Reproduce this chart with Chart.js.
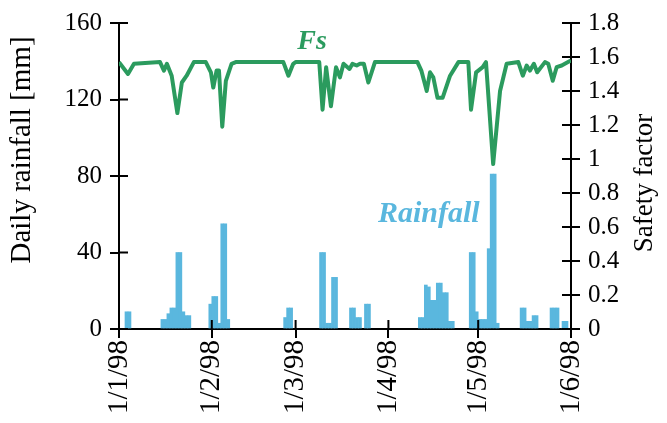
<!DOCTYPE html>
<html>
<head>
<meta charset="utf-8">
<script src="https://cdn.jsdelivr.net/npm/chart.js@4.4.1/dist/chart.umd.min.js"></script>
<style>
html, body { margin: 0; padding: 0; background: #fff; }
#wrap { width: 667px; height: 423px; }
</style>
</head>
<body>
<div id="wrap"><canvas id="chart"></canvas></div>
<script>
// day 0 = 1/1/98
const tickDays = [0, 31, 59, 90, 120, 151];
const tickLabels = ['1/1/98', '1/2/98', '1/3/98', '1/4/98', '1/5/98', '1/6/98'];

// daily rainfall [mm], only wet days
const rainDays = [2, 3, 14, 15, 16, 17, 18, 19, 20, 21, 22, 23,
    30, 31, 32, 33, 34, 35, 36, 55, 56, 57,
    67, 68, 69, 70, 71, 72, 77, 78, 79, 80, 82, 83,
    100, 101, 102, 103, 104, 105, 106, 107, 108, 109, 110, 111,
    117, 118, 119, 120, 121, 122, 123, 124, 125, 126,
    134, 135, 136, 137, 138, 139, 144, 145, 146, 148, 149];
const rainMm = [9, 9, 5, 5, 8, 11, 11, 40, 40, 9, 7, 7,
    13, 17, 17, 3, 55, 55, 5, 6, 11, 11,
    40, 40, 3, 3, 27, 27, 11, 11, 6, 6, 13, 13,
    6, 6, 23, 22, 15, 15, 24, 24, 19, 19, 4, 4,
    40, 40, 9, 5, 5, 5, 42, 81, 81, 3,
    11, 11, 4, 4, 7, 7, 11, 11, 11, 4, 4];

// safety factor, read at the corners of the curve
const fsDays = [0, 3, 5, 13.7, 15, 16, 17.6, 19.5, 21, 22.6, 25, 29, 30.7, 31.5, 32.6, 33.4, 34.5, 35.7, 37.6, 39,
    54.9, 56.6, 58.2, 59, 66.9, 68, 69.2, 70.8, 72.5, 73.8, 75, 77, 78, 79.4, 80.5, 81.8, 83.3, 85.5,
    99.7, 101, 102.8, 103.9, 105, 106.4, 108.1, 110.6, 113.4, 116.7, 117.6, 119.3, 121.5, 122.6, 125, 127.3, 129.5,
    133.4, 134.9, 136.2, 137.3, 138.6, 139.7, 142.3, 143.4, 144.9, 146.2, 147.9, 150, 151];
const fsValues = [1.57, 1.50, 1.56, 1.57, 1.52, 1.56, 1.49, 1.27, 1.45, 1.49, 1.57, 1.57, 1.51, 1.42, 1.52, 1.52, 1.19, 1.46, 1.56, 1.57,
    1.57, 1.49, 1.56, 1.57, 1.57, 1.29, 1.54, 1.31, 1.54, 1.48, 1.56, 1.53, 1.56, 1.55, 1.56, 1.56, 1.45, 1.57,
    1.57, 1.52, 1.40, 1.51, 1.48, 1.36, 1.36, 1.49, 1.57, 1.57, 1.29, 1.51, 1.54, 1.57, 0.97, 1.40, 1.56,
    1.57, 1.49, 1.55, 1.52, 1.56, 1.51, 1.57, 1.56, 1.46, 1.54, 1.55, 1.57, 1.58];

const green = '#2b9b5e';
const blue = '#5ab7de';
const serif = '"Liberation Serif", "DejaVu Serif", serif';

function sideTitle(ctx, text, x, y, size) {
    ctx.save();
    ctx.font = size + 'px ' + serif;
    ctx.fillStyle = '#000';
    ctx.textAlign = 'center';
    ctx.textBaseline = 'middle';
    ctx.translate(x, y);
    ctx.rotate(-Math.PI / 2);
    ctx.fillText(text, 0, 0);
    ctx.restore();
}

// ticks go through the axis line, draw the inner half here,
// plus the two series labels and both axis titles
const crossTicks = {
    id: 'crossTicks',
    afterDraw(chart) {
        const ctx = chart.ctx;
        const a = chart.chartArea;
        const L = chart.scales.y, R = chart.scales.y2, X = chart.scales.x;
        ctx.save();
        ctx.strokeStyle = '#000';
        ctx.lineWidth = 2;
        ctx.beginPath();
        L.ticks.forEach(t => {
            const y = L.getPixelForValue(t.value);
            ctx.moveTo(a.left, y); ctx.lineTo(a.left + 9, y);
        });
        R.ticks.forEach(t => {
            const y = R.getPixelForValue(t.value);
            ctx.moveTo(a.right - 9, y); ctx.lineTo(a.right, y);
        });
        X.ticks.forEach(t => {
            const x = X.getPixelForValue(t.value);
            ctx.moveTo(x, a.bottom - 9); ctx.lineTo(x, a.bottom);
        });
        ctx.stroke();

        ctx.textAlign = 'center';
        ctx.textBaseline = 'middle';
        ctx.font = 'italic bold 28px ' + serif;
        ctx.fillStyle = green;
        ctx.fillText('Fs', X.getPixelForValue(64.5), R.getPixelForValue(1.69));
        ctx.font = 'italic bold 30px ' + serif;
        ctx.fillStyle = blue;
        ctx.fillText('Rainfall', X.getPixelForValue(103.5), L.getPixelForValue(60));
        ctx.restore();

        sideTitle(ctx, 'Daily rainfall [mm]', 22, 150, 29);
        sideTitle(ctx, 'Safety factor', 645, 183, 27);
    }
};

new Chart(document.getElementById('chart'), {
    type: 'bar',
    data: {
        datasets: [{
            type: 'line',
            label: 'Fs',
            data: fsDays.map((d, i) => ({ x: d, y: fsValues[i] })),
            yAxisID: 'y2',
            borderColor: green,
            borderWidth: 4,
            pointRadius: 0,
            tension: 0,
            borderJoinStyle: 'round'
        }, {
            label: 'Rainfall',
            data: rainDays.map((d, i) => ({ x: d + 0.5, y: rainMm[i] })),
            yAxisID: 'y',
            backgroundColor: blue,
            barPercentage: 1,
            categoryPercentage: 1
        }]
    },
    options: {
        responsive: true,
        maintainAspectRatio: false,
        animation: false,
        layout: { padding: { top: 22, left: 0, right: 0, bottom: 0 } },
        plugins: { legend: { display: false }, tooltip: { enabled: false } },
        scales: {
            x: {
                type: 'linear',
                offset: false,
                min: 0,
                max: 151,
                afterBuildTicks: s => { s.ticks = tickDays.map(v => ({ value: v })); },
                afterFit: s => { s.height = 94; },
                ticks: {
                    autoSkip: false,
                    minRotation: 90,
                    maxRotation: 90,
                    padding: 2,
                    color: '#000',
                    font: { family: serif, size: 29 },
                    callback: v => tickLabels[tickDays.indexOf(v)]
                },
                grid: { offset: false, drawOnChartArea: false, tickLength: 9, color: '#000', lineWidth: 2 },
                border: { color: '#000', width: 2 }
            },
            y: {
                position: 'left',
                min: 0,
                max: 160,
                afterFit: s => { s.width = 119; },
                ticks: { stepSize: 40, padding: 8, color: '#000', font: { family: serif, size: 25 } },
                grid: { drawOnChartArea: false, tickLength: 9, color: '#000', lineWidth: 2 },
                border: { color: '#000', width: 2 }
            },
            y2: {
                position: 'right',
                min: 0,
                max: 1.8,
                afterFit: s => { s.width = 96; },
                ticks: { stepSize: 0.2, padding: 8, color: '#000', font: { family: serif, size: 25 },
                    callback: v => +v.toFixed(1) },
                grid: { drawOnChartArea: false, tickLength: 9, color: '#000', lineWidth: 2 },
                border: { color: '#000', width: 2 }
            }
        }
    },
    plugins: [crossTicks]
});
</script>
</body>
</html>
